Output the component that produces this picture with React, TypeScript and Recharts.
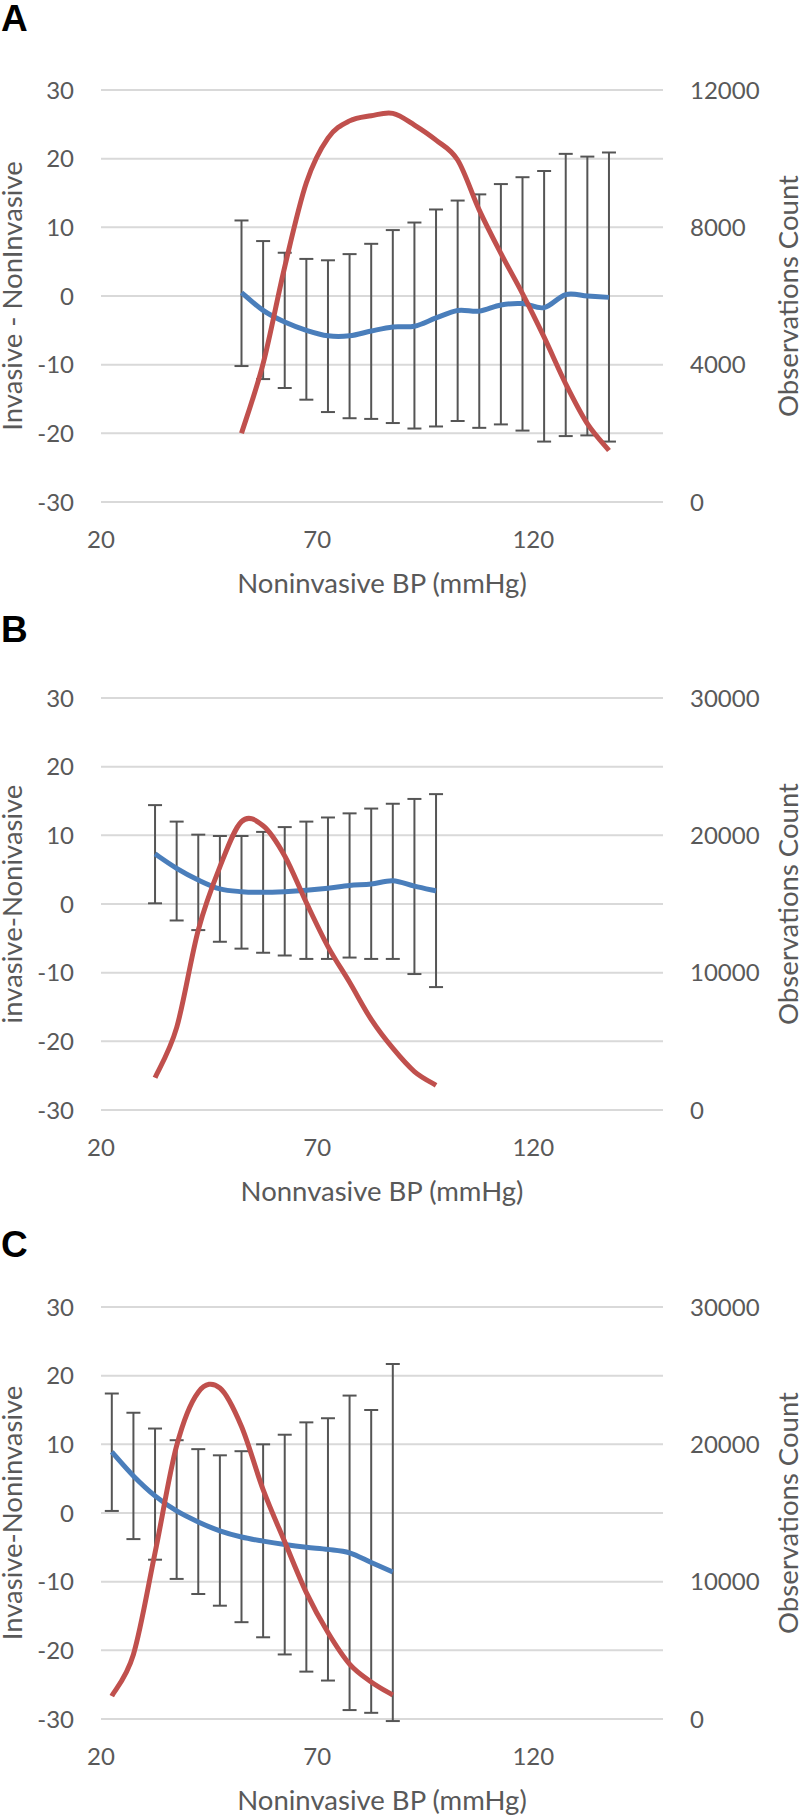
import React from "react";
import { ComposedChart, Line, XAxis, YAxis, CartesianGrid, ErrorBar, Label } from "recharts";

// Panel A
const xA = [52.5, 57.5, 62.5, 67.5, 72.5, 77.5, 82.5, 87.5, 92.5, 97.5, 102.5, 107.5, 112.5, 117.5, 122.5, 127.5, 132.5, 137.5];
const meanA = [0.5, -2.1, -3.8, -5.0, -5.8, -5.8, -5.1, -4.5, -4.4, -3.2, -2.1, -2.2, -1.3, -1.1, -1.7, 0.2, 0.0, -0.2];
const upperA = [11.0, 8.0, 6.3, 5.4, 5.2, 6.1, 7.6, 9.6, 10.7, 12.6, 13.9, 14.8, 16.3, 17.3, 18.2, 20.7, 20.3, 20.9];
const lowerA = [-10.2, -12.1, -13.4, -15.1, -16.9, -17.8, -17.9, -18.5, -19.3, -19.0, -18.2, -19.2, -18.7, -19.6, -21.2, -20.4, -20.3, -21.2];
const countA = [2000, 4030, 6850, 9300, 10600, 11100, 11250, 11320, 10980, 10540, 9960, 8500, 7240, 6070, 4800, 3440, 2280, 1500];

// Panel B
const xB = [32.5, 37.5, 42.5, 47.5, 52.5, 57.5, 62.5, 67.5, 72.5, 77.5, 82.5, 87.5, 92.5, 97.5];
const meanB = [7.3, 5.2, 3.5, 2.2, 1.8, 1.7, 1.8, 2.0, 2.3, 2.7, 2.9, 3.4, 2.6, 1.9];
const upperB = [14.4, 12.0, 10.1, 9.9, 9.9, 10.5, 11.2, 12.0, 12.6, 13.2, 13.9, 14.6, 15.3, 16.0];
const lowerB = [0.1, -2.4, -3.8, -5.5, -6.5, -7.1, -7.5, -8.0, -8.0, -7.8, -8.0, -8.0, -10.2, -12.1];
const countB = [2350, 6000, 13100, 17700, 21000, 20700, 18500, 15100, 11900, 9300, 6600, 4500, 2800, 1800];

// Panel C
const xC = [22.5, 27.5, 32.5, 37.5, 42.5, 47.5, 52.5, 57.5, 62.5, 67.5, 72.5, 77.5, 82.5, 87.5];
const meanC = [8.9, 5.4, 2.5, 0.3, -1.3, -2.6, -3.5, -4.1, -4.6, -5.0, -5.3, -5.8, -7.2, -8.6];
const upperC = [17.4, 14.6, 12.3, 10.6, 9.3, 8.4, 9.0, 10.0, 11.4, 13.2, 13.8, 17.1, 15.0, 21.7];
const lowerC = [0.3, -3.8, -6.8, -9.6, -11.8, -13.5, -15.9, -18.1, -20.6, -23.1, -24.4, -28.7, -29.1, -30.3];
const countC = [1670, 4700, 12100, 19900, 23800, 24100, 21300, 16700, 12900, 9200, 6300, 4000, 2700, 1740];

const xTicks = [20, 70, 120];
const diffTicks = [-30, -20, -10, 0, 10, 20, 30];
const countTicksA = [0, 4000, 8000, 12000];
const countTicksBC = [0, 10000, 20000, 30000];

const FONT = "Lato, 'Open Sans', sans-serif";
const GREY = "#595959";
const BLUE = "#4a7ebb";
const RED = "#c0504d";

const makeRows = (xs: number[], mean: number[], upper: number[], lower: number[], count: number[]) =>
  xs.map((x, i) => ({
    x,
    mean: mean[i],
    err: [mean[i] - lower[i], upper[i] - mean[i]],
    count: count[i],
  }));

// smooth line similar to Excel's "smoothed line" (Catmull-Rom through the points)
const smoothCurve = (context: any) => {
  let pts: number[][] = [];
  return {
    areaStart() {},
    areaEnd() {},
    lineStart() {
      pts = [];
    },
    point(x: number, y: number) {
      pts.push([+x, +y]);
    },
    lineEnd() {
      if (!pts.length) return;
      context.moveTo(pts[0][0], pts[0][1]);
      for (let i = 0; i < pts.length - 1; i++) {
        const p0 = pts[i - 1] || pts[i];
        const p1 = pts[i];
        const p2 = pts[i + 1];
        const p3 = pts[i + 2] || p2;
        context.bezierCurveTo(
          p1[0] + (p2[0] - p0[0]) / 6,
          p1[1] + (p2[1] - p0[1]) / 6,
          p2[0] - (p3[0] - p1[0]) / 6,
          p2[1] - (p3[1] - p1[1]) / 6,
          p2[0],
          p2[1]
        );
      }
    },
  };
};

interface PanelProps {
  data: any[];
  leftTitle: string;
  xTitle: string;
  countMax: number;
  countTicks: number[];
  height: number;
}

const tickStyle = { fill: GREY, fontSize: 24, fontFamily: FONT };
const titleStyle = { fill: GREY, fontSize: 27.5, fontFamily: FONT, textAnchor: "middle" as const };

const Panel = ({ data, leftTitle, xTitle, countMax, countTicks, height }: PanelProps) => (
  <ComposedChart width={800} height={height} data={data} margin={{ top: 90, right: 0, bottom: 0, left: 0 }}>
    <CartesianGrid yAxisId="left" vertical={false} stroke="#d9d9d9" strokeWidth={2} />
    <XAxis
      dataKey="x"
      type="number"
      domain={[20, 150]}
      ticks={xTicks}
      axisLine={false}
      tickLine={false}
      tickSize={0}
      tickMargin={29}
      height={height - 502}
      tick={tickStyle}
    >
      <Label value={xTitle} position="insideBottom" offset={height - 593} style={titleStyle} />
    </XAxis>
    <YAxis
      yAxisId="left"
      type="number"
      domain={[-30, 30]}
      ticks={diffTicks}
      allowDataOverflow
      axisLine={false}
      tickLine={false}
      tickSize={0}
      tickMargin={27}
      width={101}
      tick={tickStyle}
    >
      <Label value={leftTitle} angle={-90} position="insideLeft" offset={12} style={titleStyle} />
    </YAxis>
    <YAxis
      yAxisId="right"
      orientation="right"
      type="number"
      domain={[0, countMax]}
      ticks={countTicks}
      axisLine={false}
      tickLine={false}
      tickSize={0}
      tickMargin={27}
      width={137}
      tick={tickStyle}
    >
      <Label value="Observations Count" angle={-90} position="insideRight" offset={12} style={titleStyle} />
    </YAxis>
    <Line
      yAxisId="left"
      dataKey="mean"
      type={smoothCurve as any}
      stroke={BLUE}
      strokeWidth={5}
      dot={false}
      activeDot={false}
      isAnimationActive={false}
    >
      <ErrorBar dataKey="err" direction="y" width={7} stroke="#555555" strokeWidth={2} />
    </Line>
    <Line
      yAxisId="right"
      dataKey="count"
      type={smoothCurve as any}
      stroke={RED}
      strokeWidth={5}
      dot={false}
      activeDot={false}
      isAnimationActive={false}
    />
  </ComposedChart>
);

const panelLabel = (text: string, top: number) => (
  <div
    style={{
      position: "absolute",
      left: 1,
      top,
      fontFamily: "'Liberation Sans', Arial, sans-serif",
      fontWeight: 700,
      fontSize: 37,
      lineHeight: 1,
      color: "#000",
    }}
  >
    {text}
  </div>
);

export default function App() {
  const dataA = makeRows(xA, meanA, upperA, lowerA, countA);
  const dataB = makeRows(xB, meanB, upperB, lowerB, countB);
  const dataC = makeRows(xC, meanC, upperC, lowerC, countC);
  return (
    <div style={{ position: "absolute", left: 0, top: 0, width: 800, height: 1818, background: "#fff", overflow: "hidden" }}>
      <div style={{ position: "absolute", left: 0, top: 0 }}>
        <Panel data={dataA} leftTitle="Invasive - NonInvasive" xTitle="Noninvasive BP (mmHg)" countMax={12000} countTicks={countTicksA} height={608} />
      </div>
      <div style={{ position: "absolute", left: 0, top: 608 }}>
        <Panel data={dataB} leftTitle="invasive-Nonivasive" xTitle="Nonnvasive BP (mmHg)" countMax={30000} countTicks={countTicksBC} height={608} />
      </div>
      <div style={{ position: "absolute", left: 0, top: 1217 }}>
        <Panel data={dataC} leftTitle="Invasive-Noninvasive" xTitle="Noninvasive BP (mmHg)" countMax={30000} countTicks={countTicksBC} height={601} />
      </div>
      {panelLabel("A", 0)}
      {panelLabel("B", 611)}
      {panelLabel("C", 1226)}
    </div>
  );
}
